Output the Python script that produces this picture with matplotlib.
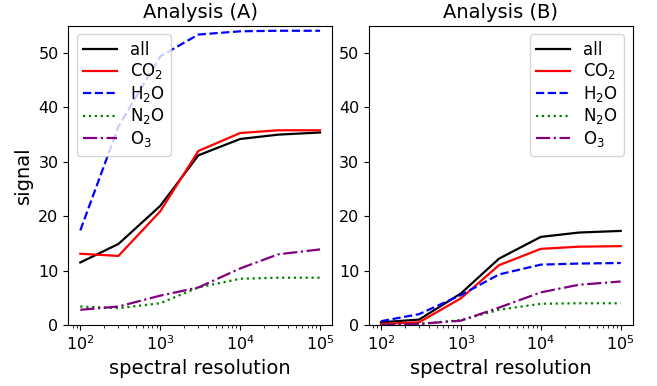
import matplotlib
matplotlib.use("Agg")
import matplotlib.pyplot as plt

# spectral resolution sample points
resolution = [1e2, 3e2, 1e3, 3e3, 1e4, 3e4, 1e5]

# Analysis (A)
a_all = [11.5, 14.9, 21.9, 31.2, 34.2, 35.0, 35.4]
a_co2 = [13.1, 12.7, 20.9, 32.0, 35.3, 35.8, 35.8]
a_h2o = [17.4, 36.5, 49.4, 53.4, 54.0, 54.1, 54.1]
a_n2o = [3.4, 3.1, 4.0, 6.9, 8.5, 8.7, 8.7]
a_o3 = [2.8, 3.4, 5.4, 6.9, 10.4, 13.0, 13.9]

# Analysis (B)
b_all = [0.5, 1.0, 5.8, 12.2, 16.2, 17.0, 17.3]
b_co2 = [0.2, 0.5, 4.9, 11.0, 14.0, 14.4, 14.5]
b_h2o = [0.7, 2.0, 5.5, 9.3, 11.1, 11.3, 11.4]
b_n2o = [0.1, 0.2, 0.9, 2.8, 3.9, 4.0, 4.0]
b_o3 = [0.0, 0.2, 0.8, 3.2, 6.0, 7.4, 8.0]

labels = ["all", r"CO$_2$", r"H$_2$O", r"N$_2$O", r"O$_3$"]
styles = [("black", "-"), ("red", "-"), ("blue", "--"), ("green", ":"), ("purple", "-.")]

fig, axes = plt.subplots(1, 2, figsize=(6.57, 3.86), dpi=100)
fig.subplots_adjust(left=0.104, right=0.963, bottom=0.158, top=0.933, wspace=0.14)

panels = [
    ("Analysis (A)", [a_all, a_co2, a_h2o, a_n2o, a_o3], "upper left"),
    ("Analysis (B)", [b_all, b_co2, b_h2o, b_n2o, b_o3], "upper right"),
]

for ax, (title, series, loc) in zip(axes, panels):
    for values, label, (color, ls) in zip(series, labels, styles):
        ax.plot(resolution, values, color=color, linestyle=ls, lw=1.6, label=label)
    ax.set_xscale("log")
    ax.set_ylim(0, 55)
    ax.set_yticks([0, 10, 20, 30, 40, 50])
    ax.set_title(title, fontsize=14)
    ax.set_xlabel("spectral resolution", fontsize=14)
    ax.tick_params(labelsize=11.5)
    ax.legend(loc=loc, fontsize=12, labelspacing=0.15)

axes[0].set_ylabel("signal", fontsize=14)

fig.savefig("out.png", dpi=100)
